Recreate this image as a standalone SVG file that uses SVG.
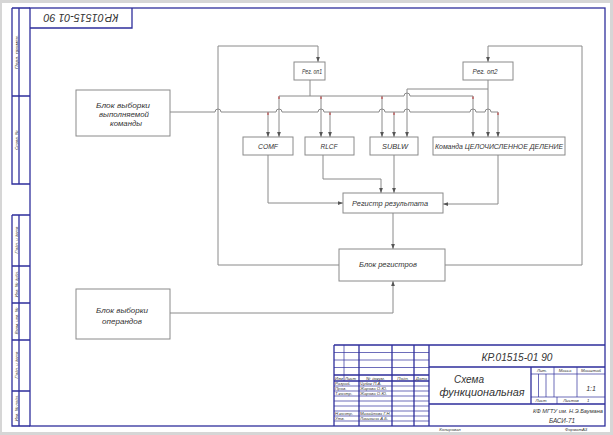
<svg xmlns="http://www.w3.org/2000/svg" width="613" height="435" viewBox="0 0 613 435">
<defs>
<marker id="arr" viewBox="0 0 8 6" refX="8" refY="3" markerWidth="5" markerHeight="4" orient="auto" markerUnits="userSpaceOnUse">
<path d="M0,0 L8,3 L0,6 z" fill="#555"/>
</marker>
<style>
.fr{fill:none;stroke:#2e2e9c;stroke-width:1.3}
.th{fill:none;stroke:#2e2e9c;stroke-width:0.7}
.box{fill:#fff;stroke:#8a8a8a;stroke-width:1}
.ln{fill:none;stroke:#8a8a8a;stroke-width:1}
.t{font-family:"Liberation Sans",Arial,sans-serif;font-style:italic;fill:#333;text-anchor:middle;font-size:8px}
.s{font-family:"Liberation Sans",Arial,sans-serif;font-style:italic;fill:#333;font-size:4.3px}
.sc{font-family:"Liberation Sans",Arial,sans-serif;font-style:italic;fill:#333;font-size:4.3px;text-anchor:middle}
.red{stroke:#c03030;stroke-width:1}
</style>
</defs>
<rect x="0" y="0" width="613" height="435" fill="#d6d6d6"/>
<rect x="2" y="3" width="608" height="429" fill="#fff"/>

<g id="frame">
<rect class="fr" x="30" y="8" width="575" height="418"/>
<path class="fr" d="M12,8 H30 M12,8 V184 H30 M19,8 V184 M12,96 H30 M12,215 H30 M12,215 V426 H30 M19,215 V426 M12,266 H30 M12,303 H30 M12,340 H30 M12,391 H30"/>
<path class="fr" d="M30,28 H132 V8"/>
<text class="t" transform="translate(81,18) rotate(180)" x="0" y="4" style="font-size:11px" textLength="75" lengthAdjust="spacingAndGlyphs">КР.01515-01 90</text>
<g class="sc">
<text transform="translate(17.6,52) rotate(-90)" textLength="34" lengthAdjust="spacingAndGlyphs">Перв. примен.</text>
<text transform="translate(17.6,140) rotate(-90)">Справ. №</text>
<text transform="translate(17.6,240) rotate(-90)">Подп. и дата</text>
<text transform="translate(17.6,284) rotate(-90)">Инв. № дубл.</text>
<text transform="translate(17.6,321) rotate(-90)">Взам. инв. №</text>
<text transform="translate(17.6,365) rotate(-90)">Подп. и дата</text>
<text transform="translate(17.6,408) rotate(-90)">Инв. № подл.</text>
</g>
</g>

<g id="titleblock">
<path class="fr" d="M334,345 H605 M334,345 V426 M359,345 V426 M392,345 V426 M414,345 V426 M429,345 V426 M334,375 H429 M334,381 H429 M429,367 H605 M429,404 H605 M531,367 V404"/>
<path class="th" d="M344,345 V381 M334,352.5 H429 M334,360 H429 M334,367.5 H429 M334,386 H429 M334,391 H429 M334,396 H429 M334,401 H429 M334,406 H429 M334,411 H429 M334,416 H429 M334,421 H429 M531,374 H605 M531,397 H605 M538.5,374 V397 M546,374 V397 M554,367 V397 M577,367 V397 M557,397 V404"/>
<g class="s">
<text x="335" y="379.8">Изм</text>
<text x="345" y="379.8">Лист</text>
<text x="375.5" y="379.8" text-anchor="middle">№ докум.</text>
<text x="403" y="379.8" text-anchor="middle">Подп.</text>
<text x="421.5" y="379.8" text-anchor="middle">Дата</text>
<text x="335" y="385.3">Разраб.</text><text x="360" y="385.3">Чубок П.А.</text>
<text x="335" y="390.3">Пров.</text><text x="360" y="390.3">Жарова О.Ю.</text>
<text x="335" y="395.3">Т.контр.</text><text x="360" y="395.3">Жарова О.Ю.</text>
<text x="335" y="415.3">Н.контр.</text><text x="360" y="415.3">Михайлова Г.Н.</text>
<text x="335" y="420.3">Утв.</text><text x="360" y="420.3">Лачихина А.Б.</text>
<text x="542" y="372.3" text-anchor="middle">Лит.</text>
<text x="565" y="372.3" text-anchor="middle">Масса</text>
<text x="591" y="372.3" text-anchor="middle">Масштаб</text>
<text x="541" y="402.2" text-anchor="middle">Лист</text>
<text x="571" y="402.2" text-anchor="middle">Листов</text>
<text x="587" y="402.2">1</text>
<text x="450" y="431" text-anchor="middle">Копировал</text>
<text x="565" y="431">Формат</text>
<text x="582" y="431">А3</text>
</g>
<text class="t" x="517" y="360.5" style="font-size:11px" textLength="71" lengthAdjust="spacingAndGlyphs">КР.01515-01 90</text>
<text class="t" x="469" y="383" style="font-size:10px">Схема</text>
<text class="t" x="482" y="396" style="font-size:10px" textLength="85" lengthAdjust="spacingAndGlyphs">функциональная</text>
<text class="t" x="591" y="390.5" style="font-size:7px">1:1</text>
<text class="t" x="568" y="413" style="font-size:6px" textLength="70" lengthAdjust="spacingAndGlyphs">КФ МГТУ им. Н.Э.Баумана</text>
<text class="t" x="562" y="422.5" style="font-size:8px" textLength="26" lengthAdjust="spacingAndGlyphs">БАСИ-71</text>
</g>

<g id="connectors">
<path class="ln" d="M170,112 H215 a3,3 0 0,1 6,0 H276 a3,3 0 0,1 6,0 H318 a3,3 0 0,1 6,0 H379 a3,3 0 0,1 6,0 H404 a3,3 0 0,1 6,0 H470 a3,3 0 0,1 6,0 H485 a3,3 0 0,1 6,0 H498"/>
<path class="ln" d="M310,80 V96 M279,96 H404 a3,3 0 0,1 6,0 H473"/>
<path class="ln" d="M488,89 H407"/>
<g class="ln" marker-end="url(#arr)">
<path d="M268,112 V137"/>
<path d="M330,112 V137"/>
<path d="M394,112 V137"/>
<path d="M498,112 V137"/>
<path d="M279,96 V137"/>
<path d="M321,96 V137"/>
<path d="M382,96 V137"/>
<path d="M473,96 V137"/>
<path d="M407,89 V137"/>
<path d="M488,80 V137"/>
<path d="M339,265 H218 V46 H318 V62"/>
<path d="M445,265 H582 V46 H488 V62"/>
<path d="M268,155 V203 H343"/>
<path d="M323,155 V179 H381 V193"/>
<path d="M394,155 V193"/>
<path d="M498,155 V204 H443"/>
<path d="M393,213 V249"/>
<path d="M170,313 H393 V281"/>
</g>
<path class="red" d="M279,96.5 V99 M321,96.5 V99 M382,96.5 V99 M473,96.5 V99 M268,112.5 V115 M330,112.5 V115 M394,112.5 V115 M498,112.5 V115"/>
</g>

<g id="n-vyb-cmd">
<rect class="box" x="76" y="90" width="94" height="46"/>
<text class="t" x="123" y="107.5" textLength="54" lengthAdjust="spacingAndGlyphs">Блок выборки</text>
<text class="t" x="124" y="116.5" textLength="50" lengthAdjust="spacingAndGlyphs">выполняемой</text>
<text class="t" x="126" y="126" textLength="32" lengthAdjust="spacingAndGlyphs">команды</text>
</g>
<g id="n-reg1">
<rect class="box" x="294" y="62" width="31" height="18"/>
<text class="t" x="312" y="74" textLength="20" lengthAdjust="spacingAndGlyphs">Рег. оп1</text>
</g>
<g id="n-reg2">
<rect class="box" x="463" y="62" width="50" height="18"/>
<text class="t" x="485" y="74" textLength="25" lengthAdjust="spacingAndGlyphs">Рег. оп2</text>
</g>
<g id="n-comf">
<rect class="box" x="243" y="137" width="50" height="18"/>
<text class="t" x="268" y="149" textLength="20" lengthAdjust="spacingAndGlyphs">COMF</text>
</g>
<g id="n-rlcf">
<rect class="box" x="305" y="137" width="49" height="18"/>
<text class="t" x="329" y="149" textLength="17" lengthAdjust="spacingAndGlyphs">RLCF</text>
</g>
<g id="n-sublw">
<rect class="box" x="370" y="137" width="48" height="18"/>
<text class="t" x="395" y="149" textLength="26" lengthAdjust="spacingAndGlyphs">SUBLW</text>
</g>
<g id="n-div">
<rect class="box" x="433" y="137" width="132" height="18"/>
<text class="t" x="499" y="149" textLength="128" lengthAdjust="spacingAndGlyphs">Команда ЦЕЛОЧИСЛЕННОЕ ДЕЛЕНИЕ</text>
</g>
<g id="n-regres">
<rect class="box" x="343" y="193" width="100" height="20"/>
<text class="t" x="390" y="206" textLength="76" lengthAdjust="spacingAndGlyphs">Регистр результата</text>
</g>
<g id="n-blockreg">
<rect class="box" x="339" y="249" width="106" height="32"/>
<text class="t" x="388" y="267" textLength="58" lengthAdjust="spacingAndGlyphs">Блок регистров</text>
</g>
<g id="n-vyb-op">
<rect class="box" x="76" y="289" width="94" height="50"/>
<text class="t" x="122" y="313" textLength="52" lengthAdjust="spacingAndGlyphs">Блок выборки</text>
<text class="t" x="122" y="323.5" textLength="40" lengthAdjust="spacingAndGlyphs">операндов</text>
</g>
</svg>
